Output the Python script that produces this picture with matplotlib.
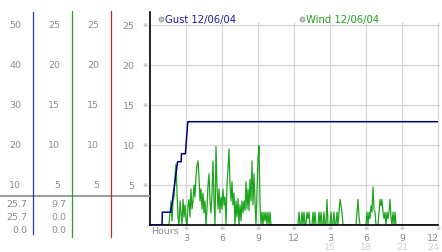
import matplotlib
matplotlib.use("Agg")
import matplotlib.pyplot as plt
import matplotlib.transforms as mtransforms
from matplotlib.lines import Line2D

W, H = 442, 253

# gust trace (hours, value)
gust_hours = [0, 1.0, 1.03, 1.72, 1.85, 2.0, 2.15, 2.3, 2.6, 2.62, 2.95, 3.15, 24]
gust_vals = [0, 0, 1.6, 1.6, 2.8, 4.5, 6.3, 7.9, 7.9, 8.9, 8.9, 12.9, 12.9]

# wind, 5 minute samples, one row per hour
wind_rows = [
    [0, 0, 0, 0, 0, 0, 0, 0, 0, 0, 0, 0],
    [0, 0, 0, 0, 0, 0, 0, 0, 1.5, 3, 0.5, 3],
    [3.5, 6, 7.6, 4, 1, 0, 3, 1.5, 0, 3.2, 1, 2.5],
    [0.5, 0, 2.5, 3.2, 1, 4.5, 2, 3, 5, 3.5, 6, 7.5],
    [8, 6, 3, 4.5, 2, 4, 1.5, 3, 0, 2, 5, 6.4],
    [3, 1.5, 4, 8, 3, 0, 9.8, 5, 2, 4.5, 1.5, 3.5],
    [2, 4.5, 2.5, 3.5, 0, 5, 7, 9.5, 5, 3, 5.4, 2.5],
    [4, 0, 3, 1, 3.3, 0, 2.5, 0.5, 3, 1.5, 3, 1.8],
    [5.4, 2, 4.5, 1.8, 5.7, 3, 8, 2.5, 6.4, 3, 0, 4],
    [8.3, 9.9, 3, 0, 1.6, 0, 1.6, 0.5, 1.6, 0, 1.6, 0],
    [1.6, 0, 0, 0, 0, 0, 0, 0, 0, 0, 0, 0],
    [0, 0, 0, 0, 0, 0, 0, 0, 0, 0, 0, 0],
    [0, 0, 0, 0, 0, 1.6, 0, 0, 1.6, 0, 1.6, 0],
    [0, 1.6, 0.8, 1.6, 0, 0, 0, 1.6, 0, 1.6, 0, 0],
    [0, 1.6, 0, 1.6, 0, 0, 1.6, 0, 0, 3.2, 0, 0],
    [0, 1.6, 0, 0, 1.6, 0, 0, 1.6, 0, 1.6, 3.2, 2.4],
    [1.6, 0, 0, 0, 0, 0, 0, 0, 0, 0, 0, 0],
    [0, 0, 0, 1.6, 3.2, 1, 0, 0, 0, 0, 0, 0],
    [0, 1.6, 0, 1.6, 0.8, 2.4, 1.6, 4.75, 2, 1.6, 0, 0],
    [0, 1.6, 3.2, 2.4, 3.2, 1.6, 0.8, 1.6, 0, 1.6, 0.8, 1.6],
    [3.2, 1, 0, 1.6, 0, 1.6, 0, 0, 0, 0, 0, 0],
    [0, 0, 0, 0, 0, 0, 0, 0, 0, 0, 0, 0],
    [0, 0, 0, 0, 0, 0, 0, 0, 0, 0, 0, 0],
    [0, 0, 0, 0, 0, 0, 0, 0, 0, 0, 0, 0],
]
wind_vals = [v for row in wind_rows for v in row]
wind_hours = [i / 12 for i in range(len(wind_vals))]

y_ticks = [5, 10, 15, 20, 25]
col_wind2 = ["10", "20", "30", "40", "50"]
col_plain = ["5", "10", "15", "20", "25"]
stats_gust = ["25.7", "25.7", "0.0"]
stats_wind = ["9.7", "0.0", "0.0"]
x_ticks = [3, 6, 9, 12, 15, 18, 21, 24]
x_labels = ["3", "6", "9", "12", "3", "6", "9", "12"]
x_labels2 = ["15", "18", "21", "24"]

GRAY = "#8c8c8c"
GRID = "#d6d6de"
FS = 6.8

fig = plt.figure(figsize=(W / 100, H / 100), dpi=100)
fig.patch.set_facecolor("white")


def fx(x):
    return x / W


def fy(y):
    return 1 - y / H


ax = fig.add_axes([fx(150), fy(226), 288 / W, 213 / H])
ax.set_xlim(0, 24)
ax.set_ylim(0, 26.6)
ax.set_facecolor("white")
for s in ["top", "right"]:
    ax.spines[s].set_visible(False)
ax.spines["left"].set_color("black")
ax.spines["left"].set_linewidth(1.2)
ax.spines["bottom"].set_color("black")
ax.spines["bottom"].set_linewidth(1.2)
ax.set_xticks([])
ax.set_yticks(y_ticks)
ax.set_yticklabels(col_plain, color=GRAY, fontsize=FS)
ax.tick_params(axis="y", length=0, pad=11)

# grid
ax.hlines(y_ticks, 0, 24.15, color=GRID, lw=0.9, zorder=0, clip_on=False)
ax.vlines(x_ticks, 0, 25.3, color=GRID, lw=0.9, zorder=0, clip_on=False)

ax.plot(wind_hours, wind_vals, color="#1ea51e", lw=0.9, zorder=2)
ax.plot(gust_hours, gust_vals, color="#000080", lw=1.1, zorder=3)

mark_fam = ["DejaVu Sans", "Noto Sans CJK JP"]
ytr = mtransforms.blended_transform_factory(fig.transFigure, ax.transData)
for v, a, b in zip(y_ticks, col_wind2, col_plain):
    ax.text(fx(145), v, "\u203b", transform=ytr, ha="center", va="center",
            fontsize=4.5, color="#a0a0a0", family=mark_fam)
    fig.text(fx(21), v, a, transform=ytr, ha="right", va="center", fontsize=FS, color=GRAY)
    fig.text(fx(60), v, b, transform=ytr, ha="right", va="center", fontsize=FS, color=GRAY)
    fig.text(fx(99), v, b, transform=ytr, ha="right", va="center", fontsize=FS, color=GRAY)

for i, (g, w) in enumerate(zip(stats_gust, stats_wind)):
    yy = fy(205 + 13 * i)
    fig.text(fx(27), yy, g, ha="right", va="center", fontsize=FS, color=GRAY)
    fig.text(fx(66), yy, w, ha="right", va="center", fontsize=FS, color=GRAY)

# left panel lines
fig.add_artist(Line2D([fx(0), fx(149)], [fy(197), fy(197)], color="#a0a0a0", lw=1.5))
fig.add_artist(Line2D([fx(33), fx(33)], [fy(13), fy(235)], color="#2040a0", lw=0.9))
fig.add_artist(Line2D([fx(72), fx(72)], [fy(12), fy(238)], color="#30a030", lw=0.9))
fig.add_artist(Line2D([fx(111), fx(111)], [fy(12), fy(238)], color="#b03030", lw=0.9))

# legend
fig.add_artist(Line2D([fx(161)], [fy(20)], marker="o", ms=3.5, mfc="#c8c8c8", mec="#909090", mew=0.6))
fig.text(fx(165), fy(20), "Gust 12/06/04", ha="left", va="center", fontsize=7.2, color="#1a1aa0")
fig.add_artist(Line2D([fx(302)], [fy(20)], marker="o", ms=3.5, mfc="#c8c8c8", mec="#909090", mew=0.6))
fig.text(fx(306), fy(20), "Wind 12/06/04", ha="left", va="center", fontsize=7.2, color="#20a020")

# x labels
xtr = mtransforms.blended_transform_factory(ax.transData, fig.transFigure)
fig.text(fx(165), fy(232), "Hours", ha="center", va="center", fontsize=FS, color=GRAY)
for t, lab in zip(x_ticks, x_labels):
    last = t == 24
    fig.text(t, fy(229), "\u203b", transform=xtr, ha="center", va="center",
             fontsize=4.5, color="#a0a0a0", family=mark_fam)
    fig.text(24.1 if last else t, fy(239), lab, transform=xtr,
             ha="right" if last else "center", va="center", fontsize=FS, color=GRAY)
for t, lab in zip(x_ticks[4:], x_labels2):
    last = t == 24
    fig.text(24.1 if last else t, fy(248), lab, transform=xtr,
             ha="right" if last else "center", va="center", fontsize=FS, color="#d0d0d0")

fig.savefig("out.png", dpi=100)
